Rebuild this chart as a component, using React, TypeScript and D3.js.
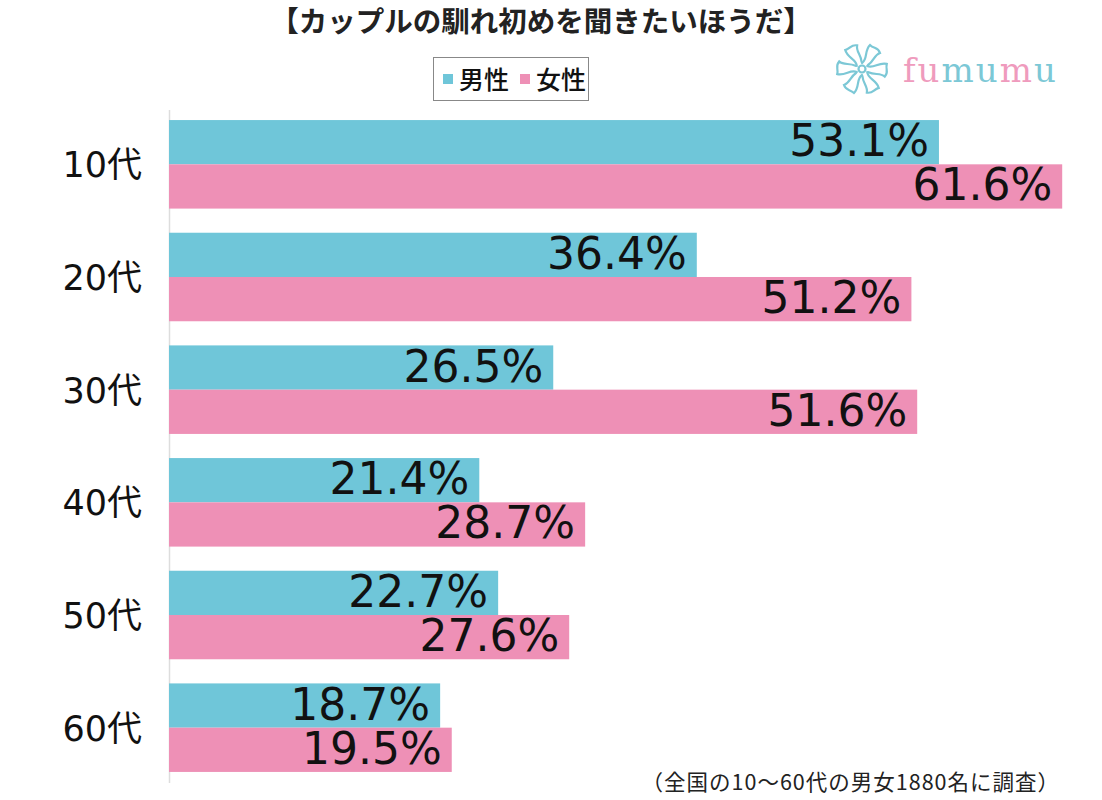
import React from "react";
import * as d3 from "d3";

const categories = ["10代", "20代", "30代", "40代", "50代", "60代"];
const seriesNames = ["男性", "女性"];
const maleValues = [53.1, 36.4, 26.5, 21.4, 22.7, 18.7];
const femaleValues = [61.6, 51.2, 51.6, 28.7, 27.6, 19.5];
const seriesColors = ["#6fc6d9", "#ee90b6"];
const title = "【カップルの馴れ初めを聞きたいほうだ】";
const footnote = "（全国の10〜60代の男女1880名に調査）";

const W = 1102;
const H = 800;
const FONT = "'Noto Sans CJK JP', 'Noto Sans', sans-serif";
const NUMFONT = "'DejaVu Sans', 'Noto Sans CJK JP', sans-serif";

export default function App() {
  const x = d3.scaleLinear().domain([0, 64]).range([169, 169 + 64 * 14.5]);
  const y0 = d3
    .scaleBand<string>()
    .domain(categories)
    .range([110, 782])
    .paddingInner(24 / 112)
    .paddingOuter(10 / 112);
  const y1 = d3.scaleBand<string>().domain(seriesNames).range([0, y0.bandwidth()]);
  const values = [maleValues, femaleValues];

  const petals = d3.range(6).map((i) => i * 60);

  return (
    <svg width={W} height={H} style={{ position: "absolute", left: 0, top: 0, background: "#fff" }} fontFamily={FONT}>
      <rect x={0} y={0} width={W} height={H} fill="#fff" />
      <text x={541} y={32} textAnchor="middle" fontSize={28.5} fontWeight={700} fill="#222">
        {title}
      </text>
      {/* legend */}
      <rect x={433.5} y={57.5} width={155} height={43} fill="#fff" stroke="#888" strokeWidth={1} />
      {seriesNames.map((s, i) => (
        <g key={s}>
          <rect x={443 + i * 77} y={74} width={10} height={10} fill={seriesColors[i]} />
          <text x={459 + i * 77} y={89} fontSize={25} fontWeight={500} fill="#111">
            {s}
          </text>
        </g>
      ))}
      {/* logo */}
      <g transform="translate(862,69)" fill="none" stroke="#7cc8d6" strokeWidth={2.2} strokeLinecap="round">
        {petals.map((a) => (
          <path
            key={a}
            transform={`rotate(${a})`}
            d="M0,-6 C6,-10 2,-18 8,-24 C12,-20 16,-22 18,-16 C12,-14 12,-8 6,-4"
          />
        ))}
        <circle r={3.5} />
      </g>
      <text x={903} y={82} fontSize={34} fontFamily="'DejaVu Serif', 'Liberation Serif', serif" letterSpacing={2}>
        <tspan fill="#ef9bbd">fu</tspan>
        <tspan fill="#7cc8d6">mu</tspan>
        <tspan fill="#ef9bbd">m</tspan>
        <tspan fill="#7cc8d6">u</tspan>
      </text>
      {/* axis line */}
      <line x1={169.5} x2={169.5} y1={110} y2={783} stroke="#dddddd" strokeWidth={1.5} />
      {categories.map((c, ci) => {
        const gy = y0(c)!;
        return (
          <g key={c}>
            <text
              x={142}
              y={gy + y0.bandwidth() / 2 + 13}
              textAnchor="end"
              fontSize={35}
              fontFamily={NUMFONT}
              fill="#111"
            >
              {c}
            </text>
            {seriesNames.map((s, si) => {
              const v = values[si][ci];
              const by = gy + y1(s)!;
              const bh = y1.bandwidth();
              return (
                <g key={s}>
                  <rect x={x(0)} y={by} width={x(v) - x(0)} height={bh} fill={seriesColors[si]} />
                  <text
                    x={x(v) - 10}
                    y={by + bh / 2 + 14}
                    textAnchor="end"
                    fontSize={44}
                    fontFamily={NUMFONT}
                    fill="#111"
                  >
                    {v.toFixed(1)}%
                  </text>
                </g>
              );
            })}
          </g>
        );
      })}
      <text x={1060} y={790} textAnchor="end" fontSize={21.5} letterSpacing={1} fill="#222">
        {footnote}
      </text>
    </svg>
  );
}
